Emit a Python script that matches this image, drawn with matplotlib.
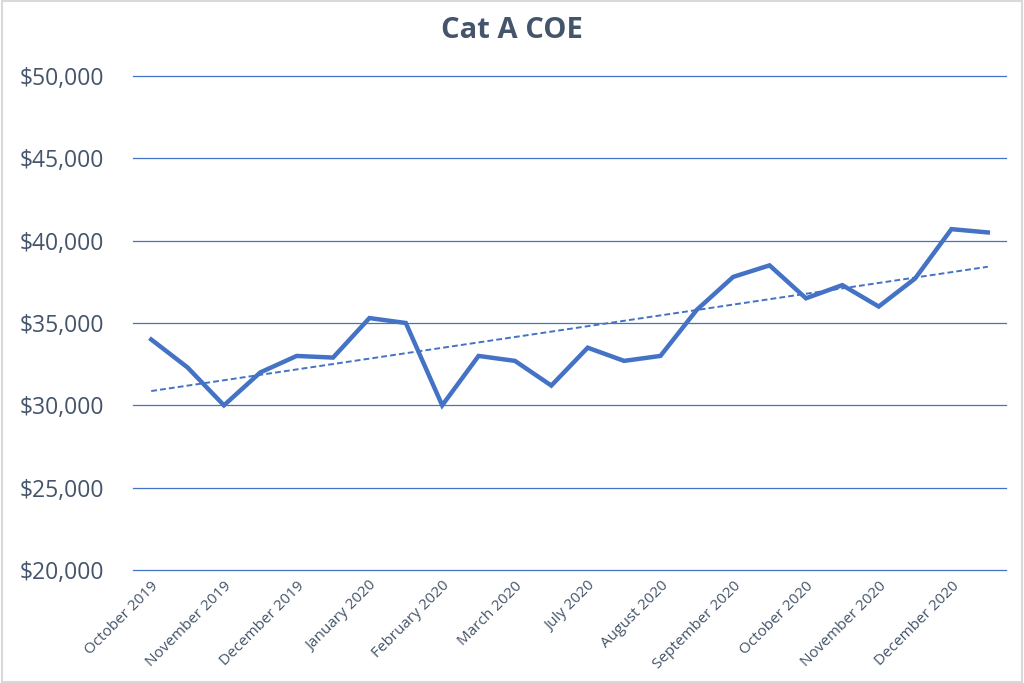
import numpy as np
import matplotlib
matplotlib.use("Agg")
import matplotlib.pyplot as plt
from matplotlib.ticker import FuncFormatter

# two bidding exercises per month, only the first one gets a label
meses = ["October 2019", "November 2019", "December 2019", "January 2020",
         "February 2020", "March 2020", "July 2020", "August 2020",
         "September 2020", "October 2020", "November 2020", "December 2020"]
coe = [34000, 32300, 30000, 32000, 33000, 32900, 35300, 35000,
       30000, 33000, 32700, 31200, 33500, 32700, 33000, 35800,
       37800, 38500, 36500, 37300, 36000, 37700, 40700, 40500]

azul = "#4472C4"
texto = "#44546A"

x = np.arange(len(coe))
pendiente, corte = np.polyfit(x, coe, 1)
tendencia = pendiente * x + corte

fig = plt.figure(figsize=(10.24, 6.83), dpi=100)
ax = fig.add_axes([133 / 1024, 1 - 570 / 683, 873 / 1024, 494 / 683])

ax.plot(x, coe, color=azul, linewidth=3.2, solid_joinstyle="miter", zorder=3)
ax.plot(x, tendencia, color=azul, linewidth=1.4, linestyle=(0, (3, 1.6)), zorder=2)

ax.set_xlim(-0.5, len(coe) - 0.5)
ax.set_ylim(20000, 50000)
ax.set_yticks(range(20000, 50001, 5000))
ax.yaxis.set_major_formatter(FuncFormatter(lambda v, p: "${:,.0f}".format(v)))
ax.grid(axis="y", color=azul, linewidth=0.9)
for g in ax.get_ygridlines():
    g.set_clip_on(False)
ax.set_axisbelow(True)

ax.set_xticks(x[::2])
ax.set_xticklabels(meses, rotation=45, ha="right", rotation_mode="anchor",
                   fontsize=11, color=texto, family="Open Sans")
for t in ax.get_yticklabels():
    t.set_fontsize(16.5)
    t.set_color(texto)
    t.set_family("Open Sans")
ax.tick_params(axis="both", length=0)
ax.tick_params(axis="y", pad=21)
ax.tick_params(axis="x", pad=6)
for s in ax.spines.values():
    s.set_visible(False)

fig.text(0.5, 1 - 30 / 683, "Cat A COE", ha="center", va="center",
         fontsize=21, fontweight="bold", color=texto, family="Open Sans")

# marco gris del grafico
fig.add_artist(plt.Rectangle((0.002, 0.002), 0.996, 0.996, transform=fig.transFigure,
                             fill=False, edgecolor="#D9D9D9", linewidth=1.5))

fig.savefig("out.png", dpi=100)
